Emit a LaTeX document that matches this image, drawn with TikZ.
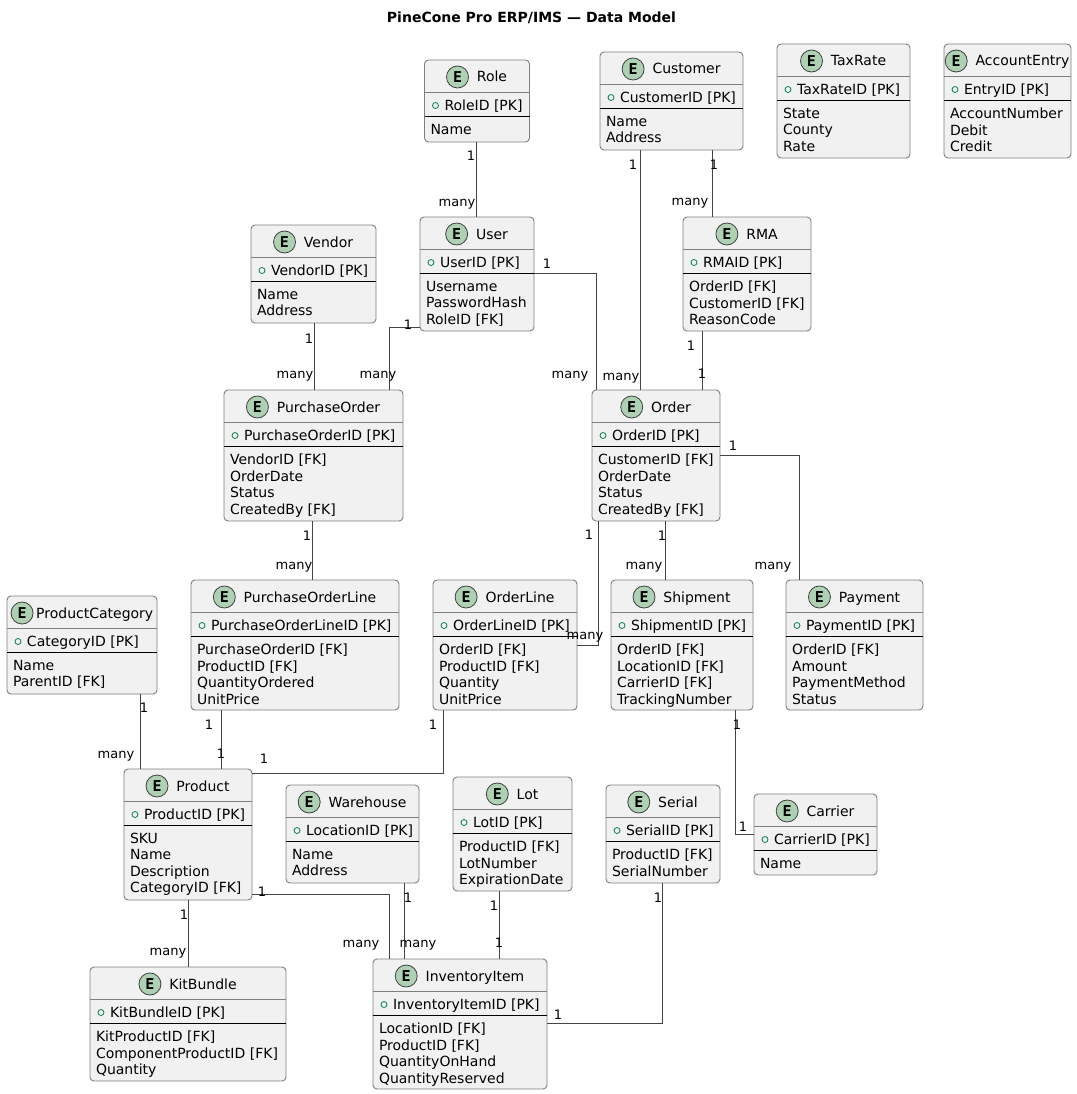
\documentclass[tikz,border=0pt]{standalone}
\usepackage{fontspec}
\setmainfont{DejaVu Sans}
\setmonofont{DejaVu Sans Mono}
\usetikzlibrary{positioning}
\definecolor{boxfill}{HTML}{F1F1F1}
\definecolor{boxline}{HTML}{7F7F7F}
\definecolor{spotfill}{HTML}{ADD1B2}
\definecolor{pkgreen}{HTML}{038048}
\definecolor{linedark}{HTML}{444444}

\begin{document}
\begin{tikzpicture}[x=1pt,y=-1pt]
 \tikzstyle{entitybox} = [draw=boxline,fill=boxfill,line width=0.9pt,rounded corners=4pt,
   inner sep=0pt,outer sep=0pt,anchor=north west]
 \tikzstyle{rowtext} = [inner sep=0pt,outer sep=0pt,anchor=west,text height=12pt,text depth=2pt,
   font=\fontsize{14}{16.5}\selectfont]
 \tikzstyle{attrtext} = [inner sep=0pt,outer sep=0pt,anchor=north west,align=left,
   font=\fontsize{14}{16.5}\selectfont]
 \tikzstyle{spot} = [circle,draw=black!75,fill=spotfill,line width=0.8pt,minimum size=22pt,
   inner sep=0pt,font=\fontsize{15}{15}\ttfamily\bfseries]
 \tikzstyle{pkmark} = [circle,draw=pkgreen,line width=0.8pt,minimum size=6pt,inner sep=0pt]
 \tikzstyle{relation} = [draw=linedark,line width=0.9pt]
 \tikzstyle{card} = [inner sep=0pt,text height=9.5pt,text depth=3pt,font=\fontsize{13}{13}\selectfont]
 \newcommand{\spotgap}{8}
 \newcommand{\titleshift}{15}
 % id, left, top, width, height, key, attributes
 \newcommand{\entity}[7]{
  \node[entitybox,minimum width=#4pt,minimum height=#5pt] (#1) at (#2,#3) {};
  \draw[boxline,line width=0.9pt] ([yshift=-32pt]#1.north west) -- ([yshift=-32pt]#1.north east);
  \draw[black,line width=0.9pt] ([yshift=-56pt]#1.north west) -- ([yshift=-56pt]#1.north east);
  \node[rowtext,anchor=center] (#1title) at ([shift={(\titleshift pt,-17pt)}]#1.north) {#1};
  \node[spot,left=\spotgap pt of #1title] (#1spot) {E};
  \node[pkmark] (#1mark) at ([shift={(11pt,-45.5pt)}]#1.north west) {};
  \node[rowtext] (#1key) at ([shift={(20pt,-45.5pt)}]#1.north west) {#6};
  \node[attrtext] (#1attrs) at ([shift={(6pt,-64pt)}]#1.north west) {#7};
 }
 \newcommand{\cardlabel}[4]{\node[card] (#1) at (#2,#3+1.5) {#4};}

 \useasboundingbox (0,0) rectangle (1076,1094);
 \node[font=\fontsize{14}{16}\selectfont\bfseries] (heading) at (531.5,18) {PineCone Pro ERP/IMS — Data Model};

% Top row
 \entity{Role}{424.5}{60}{105}{82}{RoleID [PK]}{Name}
 \entity{Customer}{600}{52}{143}{98}{CustomerID [PK]}{Name\\Address}
 \entity{TaxRate}{777}{44}{133}{114}{TaxRateID [PK]}{State\\County\\Rate}
 \entity{AccountEntry}{944}{44}{127}{114}{EntryID [PK]}{AccountNumber\\Debit\\Credit}
 \entity{Vendor}{251}{225}{125}{98}{VendorID [PK]}{Name\\Address}
 \entity{User}{420}{217}{114}{114}{UserID [PK]}{Username\\PasswordHash\\RoleID [FK]}
 \entity{RMA}{683}{217}{128}{114}{RMAID [PK]}{OrderID [FK]\\CustomerID [FK]\\ReasonCode}

% Orders
 \entity{PurchaseOrder}{224}{390}{179}{131}{PurchaseOrderID [PK]}{VendorID [FK]\\OrderDate\\Status\\CreatedBy [FK]}
 \entity{Order}{592}{390}{128}{131}{OrderID [PK]}{CustomerID [FK]\\OrderDate\\Status\\CreatedBy [FK]}
 \renewcommand{\spotgap}{2.7}
 \renewcommand{\titleshift}{12.7}
 \entity{ProductCategory}{7}{596}{150}{98}{CategoryID [PK]}{Name\\ParentID [FK]}
 \renewcommand{\spotgap}{8}
 \renewcommand{\titleshift}{15}
 \entity{PurchaseOrderLine}{191}{580}{208}{130}{PurchaseOrderLineID [PK]}{PurchaseOrderID [FK]\\ProductID [FK]\\QuantityOrdered\\UnitPrice}
 \entity{OrderLine}{433}{580}{144}{130}{OrderLineID [PK]}{OrderID [FK]\\ProductID [FK]\\Quantity\\UnitPrice}
 \entity{Shipment}{611}{580}{142}{130}{ShipmentID [PK]}{OrderID [FK]\\LocationID [FK]\\CarrierID [FK]\\TrackingNumber}
 \entity{Payment}{786}{580}{137}{130}{PaymentID [PK]}{OrderID [FK]\\Amount\\PaymentMethod\\Status}

% Stock
 \entity{Product}{124}{769}{128}{131}{ProductID [PK]}{SKU\\Name\\Description\\CategoryID [FK]}
 \entity{Warehouse}{286}{785}{133}{98}{LocationID [PK]}{Name\\Address}
 \entity{Lot}{453}{777}{119}{114}{LotID [PK]}{ProductID [FK]\\LotNumber\\ExpirationDate}
 \entity{Serial}{606}{785}{114}{98}{SerialID [PK]}{ProductID [FK]\\SerialNumber}
 \entity{Carrier}{754}{794}{123}{81}{CarrierID [PK]}{Name}
 \entity{KitBundle}{90}{967}{196}{114}{KitBundleID [PK]}{KitProductID [FK]\\ComponentProductID [FK]\\Quantity}
 \entity{InventoryItem}{373}{959}{174}{130}{InventoryItemID [PK]}{LocationID [FK]\\ProductID [FK]\\QuantityOnHand\\QuantityReserved}

% Relations
 \draw[relation] ([xshift=52pt]Role.south west) -- ([xshift=56.5pt]User.north west);
 \draw[relation] ([xshift=40pt]Customer.south west) -- ([xshift=48pt]Order.north west);
 \draw[relation] ([xshift=112pt]Customer.south west) -- ([xshift=29pt]RMA.north west);
 \draw[relation] ([yshift=-56pt]User.north east) -| ([xshift=4pt]Order.north west);
 \draw[relation] ([yshift=-110pt]User.north west) -| ([xshift=165pt]PurchaseOrder.north west);
 \draw[relation] ([xshift=63pt]Vendor.south west) -- ([xshift=90pt]PurchaseOrder.north west);
 \draw[relation] ([xshift=19pt]RMA.south west) -- ([xshift=110pt]Order.north west);
 \draw[relation] ([xshift=88pt]PurchaseOrder.south west) -- ([xshift=121pt]PurchaseOrderLine.north west);
 \draw[relation] ([xshift=6pt]Order.south west) |- ([yshift=-65pt]OrderLine.north east);
 \draw[relation] ([xshift=73pt]Order.south west) -- ([xshift=54pt]Shipment.north west);
 \draw[relation] ([yshift=-65pt]Order.north east) -| ([xshift=13pt]Payment.north west);
 \draw[relation] ([xshift=133.5pt]ProductCategory.south west) -- ([xshift=16.5pt]Product.north west);
 \draw[relation] ([xshift=30pt]PurchaseOrderLine.south west) -- ([xshift=97pt]Product.north west);
 \draw[relation] ([xshift=10pt]OrderLine.south west) |- ([yshift=-4pt]Product.north east);
 \draw[relation] ([xshift=124pt]Shipment.south west) |- ([yshift=-40pt]Carrier.north west);
 \draw[relation] ([xshift=64pt]Product.south west) -- ([xshift=98pt]KitBundle.north west);
 \draw[relation] ([yshift=-125pt]Product.north east) -| ([xshift=16pt]InventoryItem.north west);
 \draw[relation] ([xshift=118pt]Warehouse.south west) -- ([xshift=31pt]InventoryItem.north west);
 \draw[relation] ([xshift=46pt]Lot.south west) -- ([xshift=126pt]InventoryItem.north west);
 \draw[relation] ([xshift=56pt]Serial.south west) |- ([yshift=-64pt]InventoryItem.north east);

% Cardinalities
 \cardlabel{roleA}{471}{156}{1}
 \cardlabel{roleB}{457}{202}{many}
 \cardlabel{custA}{633}{165}{1}
 \cardlabel{custB}{621}{376}{many}
 \cardlabel{custC}{714}{165}{1}
 \cardlabel{custD}{690}{201}{many}
 \cardlabel{userA}{547}{264}{1}
 \cardlabel{userB}{570}{374}{many}
 \cardlabel{userC}{408}{325}{1}
 \cardlabel{userD}{378}{374}{many}
 \cardlabel{vendA}{309}{339}{1}
 \cardlabel{vendB}{295}{374}{many}
 \cardlabel{rmaA}{691}{346}{1}
 \cardlabel{rmaB}{702}{374}{1}
 \cardlabel{poA}{307}{536}{1}
 \cardlabel{poB}{294}{565}{many}
 \cardlabel{ordA}{589}{535}{1}
 \cardlabel{ordB}{585}{635}{many}
 \cardlabel{ordC}{662}{536}{1}
 \cardlabel{ordD}{644}{565}{many}
 \cardlabel{ordE}{733}{446}{1}
 \cardlabel{ordF}{773}{565}{many}
 \cardlabel{catA}{144}{708}{1}
 \cardlabel{catB}{116}{754}{many}
 \cardlabel{polA}{209}{725}{1}
 \cardlabel{polB}{221}{754}{1}
 \cardlabel{olA}{433}{725}{1}
 \cardlabel{olB}{264}{759}{1}
 \cardlabel{shipA}{737}{725}{1}
 \cardlabel{shipB}{743}{827}{1}
 \cardlabel{prodA}{184}{915}{1}
 \cardlabel{prodB}{168}{951}{many}
 \cardlabel{prodC}{262}{892}{1}
 \cardlabel{prodD}{361}{943}{many}
 \cardlabel{wareA}{408}{898}{1}
 \cardlabel{wareB}{418}{943}{many}
 \cardlabel{lotA}{494}{906}{1}
 \cardlabel{lotB}{499}{943}{1}
 \cardlabel{serA}{658}{898}{1}
 \cardlabel{serB}{558}{1015}{1}
\end{tikzpicture}
\end{document}
